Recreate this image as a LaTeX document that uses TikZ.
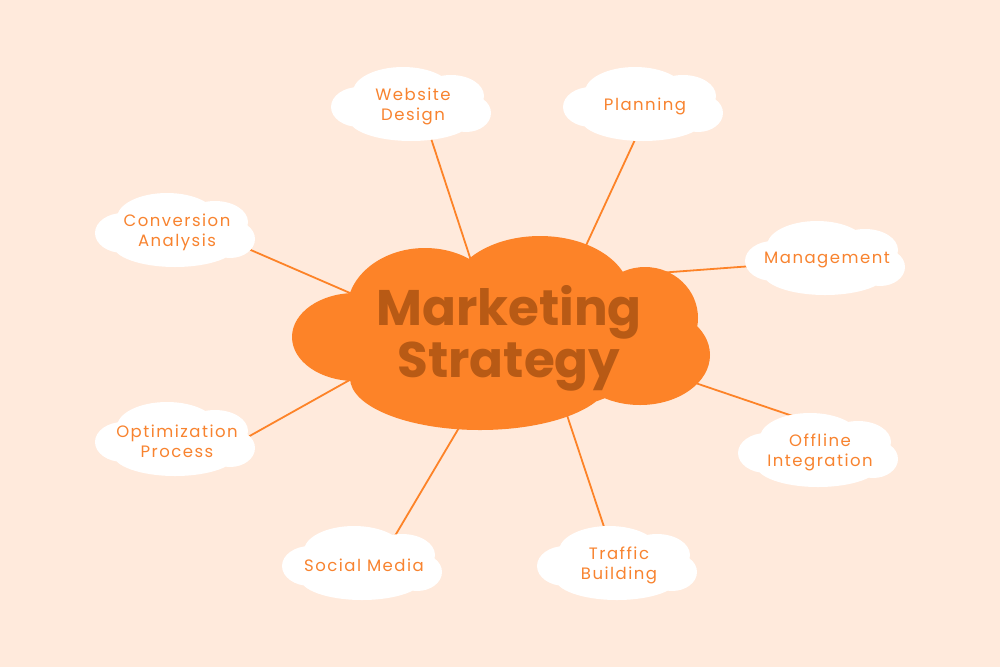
\documentclass[tikz,border=0pt]{standalone}
\usepackage{fontspec}
\setmainfont{Poppins}
\newfontfamily\leaffont[LetterSpace=9]{Poppins}
\usepackage{xcolor}
\usetikzlibrary{positioning}

\definecolor{peach}{HTML}{FFEADC}
\definecolor{hub}{HTML}{FD8328}
\definecolor{hubtext}{HTML}{B85A15}
\definecolor{leaf}{HTML}{F8832F}

% small white cloud centred at (#1,#2)
\newcommand{\puff}[2]{%
  \fill[white] ({#1-52},{#2+3}) ellipse [x radius=28pt,y radius=20pt]
    ({#1-8},{#2-12}) ellipse [x radius=50pt,y radius=25pt]
    ({#1+40},{#2-8}) ellipse [x radius=33pt,y radius=21pt]
    ({#1+55},{#2+9}) ellipse [x radius=25pt,y radius=19pt]
    ({#1},{#2+15}) ellipse [x radius=62pt,y radius=22pt]
    ({#1},{#2}) ellipse [x radius=65pt,y radius=25pt];}

\begin{document}
\begin{tikzpicture}[x=1pt,y=-1pt,
  spoke/.style={hub,line width=1.8pt},
  leaftext/.style={leaf,align=center,font=\leaffont\fontsize{16.5}{20}\selectfont},
  hubtitle/.style={hubtext,align=center,font=\fontsize{50}{52}\selectfont\bfseries}]
\fill[peach] (0,0) rectangle (1000,667);

% spokes
\foreach \nm/\ax/\ay/\bx/\by in {web/425/120/479/285, plan/646/116/570/280,
    conv/230/241/380/306, mgmt/766/265/631/275, opt/230/447/380/363,
    off/831/429/666/373, soc/386/551/479/394, traf/612/551/560/394} {
  \coordinate (\nm-a) at (\ax,\ay);
  \coordinate (\nm-b) at (\bx,\by);
  \draw[spoke] (\nm-a) -- (\nm-b);
}

% centre cloud
\fill[hub] (355,337) ellipse [x radius=63pt,y radius=44pt]
  (425,310) ellipse [x radius=78pt,y radius=62pt]
  (540,295) ellipse [x radius=90pt,y radius=59pt]
  (645,318) ellipse [x radius=53pt,y radius=51pt]
  (640,355) ellipse [x radius=70pt,y radius=50pt]
  (480,378) ellipse [x radius=130pt,y radius=52pt]
  (510,340) ellipse [x radius=150pt,y radius=75pt];
\node[hubtitle] (hub) at (509,338) {Marketing\\Strategy};

% outer clouds
\foreach \px/\py/\nm/\txt in {411/104/website/{Website\\Design},
    643/104/planning/Planning, 175/230/conversion/{Conversion\\Analysis},
    825/258/management/Management, 175/439/optimization/{Optimization\\Process},
    818/450/offline/{Offline\\Integration}, 362/563/social/{Social Media},
    617/563/traffic/{Traffic\\Building}} {
  \puff{\px}{\py}
  \node[leaftext] (\nm) at ({\px+2},{\py+2}) {\txt};
}
\end{tikzpicture}
\end{document}
